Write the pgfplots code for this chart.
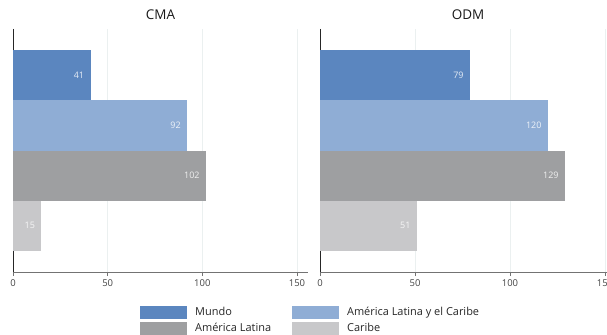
\documentclass[border=0pt]{standalone}
\usepackage{pgfplots}
\pgfplotsset{compat=1.18}
\usepackage{fontspec}
\setmainfont{Open Sans}
\definecolor{cMundo}{HTML}{5B86BF}
\definecolor{cALC}{HTML}{8FADD5}
\definecolor{cAL}{HTML}{9E9FA1}
\definecolor{cCar}{HTML}{C8C8CA}
\definecolor{gridc}{HTML}{EBF0F0}
\definecolor{tickc}{HTML}{444444}
\pgfplotsset{
 mystyle/.style={
  scale only axis, width=296bp, height=243bp,
  xbar, bar width=1, bar shift=0pt,
  y dir=reverse,
  xmin=0, xmax=155.8, ymin=-0.92, ymax=3.92,
  axis x line=bottom, axis y line=left,
  x axis line style={-, draw=black!55, line width=0.8pt},
  y axis line style={-, draw=black!85, line width=0.8pt},
  ytick=\empty, xtick={0,50,100,150},
  xmajorgrids, grid style={draw=gridc, line width=0.8pt},
  tick align=outside, major tick length=4bp,
  tick style={draw=black!55, line width=0.8pt},
  xticklabel style={font=\fontsize{9.5}{10}\selectfont, text=tickc},
  /pgf/number format/assume math mode=true,
  nodes near coords,
  every node near coord/.append style={anchor=east, xshift=-3bp, font=\fontsize{9}{10}\selectfont, text=white, text opacity=0.85},
  title style={at={(0.5,1)}, anchor=base, yshift=4bp, inner sep=0pt, font=\fontsize{13.5}{14}\selectfont, text=black!90},
  clip=false,
 }
}
\begin{document}
\begin{tikzpicture}
\useasboundingbox (0,0) rectangle (607bp,335bp);
\begin{axis}[mystyle, at={(13bp,63bp)}, anchor=south west, width=295bp, title={CMA},
  legend columns=2,
  legend image code/.code={\fill[#1,draw=none] (0bp,-6.5bp) rectangle (47bp,6.5bp);},
  legend style={at={(0.4305,-0.1358)}, anchor=north west, draw=none, fill=none, inner sep=0pt,
    font=\fontsize{11}{12}\selectfont, text=black!85, row sep=2bp,
    /tikz/every odd column/.append style={column sep=6bp},
    /tikz/every even column/.append style={column sep=19bp}},
  legend cell align=left]
\addplot[fill=cMundo, draw=none] coordinates {(41,0)};
\addplot[fill=cALC, draw=none] coordinates {(92,1)};
\addplot[fill=cAL, draw=none] coordinates {(102,2)};
\addplot[fill=cCar, draw=none] coordinates {(15,3)};
\legend{Mundo, América Latina y el Caribe, América Latina, Caribe}
\end{axis}
\begin{axis}[mystyle, at={(320bp,63bp)}, anchor=south west, title={ODM}]
\addplot[fill=cMundo, draw=none] coordinates {(79,0)};
\addplot[fill=cALC, draw=none] coordinates {(120,1)};
\addplot[fill=cAL, draw=none] coordinates {(129,2)};
\addplot[fill=cCar, draw=none] coordinates {(51,3)};
\end{axis}
\end{tikzpicture}
\end{document}
